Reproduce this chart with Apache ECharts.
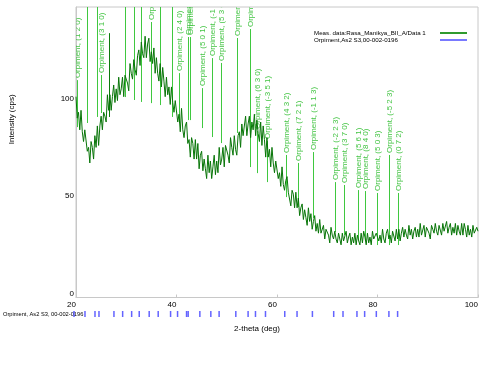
<!DOCTYPE html>
<html>
<head>
<meta charset="utf-8">
<title>XRD Rasa Manikya</title>
<script src="https://cdn.jsdelivr.net/npm/echarts@6.0.0/dist/echarts.min.js"></script>
<style>
html,body{margin:0;padding:0;background:#fff;}
#main{width:500px;height:375px;}
</style>
</head>
<body>
<div id="main"></div>
<script>
/*
 * XRD scan with Orpiment reference lines
 */
var dataName = 'Meas. data:Rasa_Manikya_BII_A/Data 1';
var refName = 'Orpiment,As2 S3,00-002-0196';
var refLabel = 'Orpiment, As2 S3, 00-002-0196';

var xMin = 20, xMax = 100, xStep = 20;
var yMin = 0, yMax = 149, yStep = 50;

var scanStart = 20;
var scanStep = 0.25;
var intensity = [
 103, 92, 95, 86,   96, 85, 80, 86,   86, 75, 77, 69,   80, 77, 71, 83,
 77, 88, 78, 88,    93, 86, 95, 93,   90, 104, 96, 104, 96, 103, 109, 100,
 107, 101, 113, 104, 107, 113, 103, 114, 114, 110, 106, 120, 115, 112, 122, 117,
 114, 124, 127, 119, 131, 125, 123, 134, 123, 130, 133, 121, 126, 120, 128, 115,
 123, 115, 111, 120, 108, 118, 111, 103, 113, 104, 108, 99, 108, 100, 95, 101,
 101, 90, 94, 85,   97, 86, 82, 88,   90, 79, 81, 72,   82, 79, 71, 81,
 71, 79, 66, 73,    75, 65, 71, 66,   61, 73, 64, 70,   61, 67, 73, 63,
 70, 64, 77, 68,    71, 77, 67, 78,   78, 73, 69, 82,   77, 73, 83, 76,
 73, 83, 85, 77,    89, 83, 82, 93,   83, 89, 93, 82,   90, 86, 94, 83,
 91, 84, 80, 90,    78, 88, 81, 72,   82, 72, 76, 67,   77, 69, 64, 70,
 70, 61, 64, 57,    67, 58, 55, 60,   62, 54, 55, 47,   55, 53, 46, 54,
 46, 51, 42, 46,    48, 40, 45, 41,   37, 46, 39, 43,   35, 39, 42, 34,
 38, 33, 40, 33,    34, 37, 30, 35,   35, 32, 28, 36,   32, 30, 34, 30,
 28, 33, 32, 27,    33, 29, 28, 34,   28, 31, 33, 27,   31, 28, 33, 27,
 32, 29, 27, 33,    28, 34, 31, 27,   33, 28, 31, 27,   34, 30, 29, 33,
 34, 29, 32, 28,    35, 30, 28, 33,   35, 30, 32, 28,   34, 33, 29, 35,
 30, 35, 29, 33,    36, 31, 35, 32,   30, 37, 32, 35,   30, 34, 36, 31,
 35, 31, 38, 32,    33, 37, 31, 36,   36, 33, 30, 37,   35, 33, 38, 34,
 32, 37, 37, 32,    38, 34, 33, 39,   33, 36, 38, 32,   36, 33, 38, 32,
 37, 34, 32, 38,    32, 38, 35, 31,   37, 32, 35, 31,   37, 33, 32, 36,
 34
];

// reference reflections (2-theta), bottom strip
var refPos = [20.10, 22.27, 24.25, 25.04, 28.00, 29.72, 31.50, 33.00, 34.97, 36.75,
  39.20, 40.58, 42.36, 42.68, 44.99, 47.16, 48.80, 52.10, 54.53, 55.99, 57.97,
  61.78, 64.21, 67.25, 71.46, 73.30, 76.06, 77.58, 79.89, 82.38, 84.10];

// label sticks in the plot: [2-theta, top, bottom, dark]
var stickData = [
  [20.15, 111.5, 87.4, 0], [22.27, 152, 89.5, 0], [24.25, 152, 92.6, 0],
  [25.04, 114.1, 94.6, 0], [26.56, 135.6, 92.6, 1], [29.72, 152, 102.8, 0],
  [31.50, 152, 101.3, 0], [33.00, 152, 100.3, 0], [34.97, 141.3, 99.7, 0],
  [36.75, 152, 98.7, 0], [39.20, 152, 92.6, 0], [40.58, 115.1, 89.5, 0],
  [42.36, 133.6, 91.0, 0], [42.68, 133.6, 91.0, 0], [44.99, 107.4, 86.9, 0],
  [47.16, 122.8, 82.3, 0], [48.80, 120.3, 79.2, 0], [52.10, 133.1, 84.4, 0],
  [54.53, 137.7, 66.9, 0], [55.99, 85.4, 63.8, 0], [57.97, 80.3, 59.2, 0],
  [61.78, 73.1, 51.5, 0], [64.21, 69.0, 46.4, 0], [67.25, 74.6, 40.8, 0],
  [71.46, 59.2, 33.6, 0], [73.30, 57.7, 32.0, 0], [76.06, 55.1, 29.5, 0],
  [77.58, 54.6, 29.5, 0], [79.89, 53.6, 26.9, 0], [82.38, 73.1, 26.9, 0],
  [84.10, 53.6, 26.9, 0]
];
var stickLabels = [
  'Orpiment, (1 2 0)', '', '', 'Orpiment, (3 1 0)', '', '', '', '',
  'Orpiment, (1 3 1)', '', '', 'Orpiment, (2 4 0)', 'Orpiment, (1 5 0)',
  'Orpiment, (3 3 1)', 'Orpiment, (5 0 1)', 'Orpiment, (-1 5 1)', 'Orpiment, (5 3 0)',
  'Orpiment, (2 6 0)', 'Orpiment, (1 5 2)', 'Orpiment, (6 3 0)', 'Orpiment, (-3 5 1)',
  'Orpiment, (4 3 2)', 'Orpiment, (7 2 1)', 'Orpiment, (-1 1 3)', 'Orpiment, (-2 2 3)',
  'Orpiment, (3 7 0)', 'Orpiment, (5 6 1)', 'Orpiment, (8 4 0)', 'Orpiment, (5 0 3)',
  'Orpiment, (-5 2 3)', 'Orpiment, (0 7 2)'
];

var scan = [];
for (var i = 0; i < intensity.length; i++) {
  scan.push([scanStart + i * scanStep, intensity[i]]);
}
var strip = [];
for (var j = 0; j < refPos.length; j++) {
  strip.push([refPos[j], 0]);
}

function renderStick(params, api) {
  var top = api.coord([api.value(0), api.value(1)]);
  var bot = api.coord([api.value(0), api.value(2)]);
  var x = Math.round(top[0]) + 0.5;
  var dark = api.value(3) === 1;
  var children = [{
    type: 'line',
    shape: {x1: x, y1: top[1], x2: x, y2: bot[1]},
    style: {stroke: dark ? '#0d7d0d' : '#3fc83f', lineWidth: 1}
  }];
  var label = stickLabels[params.dataIndex];
  if (label) {
    children.push({
      type: 'text',
      x: x, y: top[1] - 2,
      rotation: Math.PI / 2,
      style: {
        text: label, fill: '#44c444',
        font: '8px "Liberation Sans", Arial, sans-serif',
        align: 'left', verticalAlign: 'middle'
      }
    });
  }
  return {type: 'group', children: children};
}

var myChart = echarts.init(document.getElementById('main'));
myChart.setOption({
  animation: false,
  backgroundColor: '#fff',
  textStyle: {fontFamily: '"Liberation Sans", Arial, sans-serif'},
  legend: {
    orient: 'vertical', left: 309, top: 25, align: 'right',
    icon: 'rect', itemWidth: 27, itemHeight: 2, itemGap: 1,
    selectedMode: false,
    formatter: '{t|{name}}',
    textStyle: {
      fontSize: 6.2, color: '#000',
      rich: {t: {width: 121, align: 'left', fontSize: 6.2, lineHeight: 9, color: '#000'}}
    },
    data: [
      {name: dataName, itemStyle: {color: '#2f9a2f'}},
      {name: refName, itemStyle: {color: '#5858ff'}}
    ]
  },
  grid: [
    {left: 73.5, right: 22, top: 7, bottom: 77.5, show: true,
     borderColor: '#c8c8c8', borderWidth: 1, backgroundColor: 'transparent'},
    {left: 73.5, right: 22, top: 311, height: 6}
  ],
  xAxis: [{
    type: 'value', gridIndex: 0, min: xMin, max: xMax, interval: xStep,
    name: '2-theta (deg)', nameLocation: 'middle', nameGap: 27,
    nameTextStyle: {fontSize: 8, color: '#000', padding: [0, 40, 0, 0]},
    axisLine: {show: true, lineStyle: {color: '#c8c8c8'}},
    axisTick: {show: true, inside: true, length: 3, lineStyle: {color: '#c8c8c8'}},
    axisLabel: {fontSize: 8, color: '#000', align: 'right', margin: 3},
    splitLine: {show: false}
  }, {
    type: 'value', gridIndex: 1, min: xMin, max: xMax, show: false
  }],
  yAxis: [{
    type: 'value', gridIndex: 0, min: yMin, max: yMax, interval: yStep,
    name: 'Intensity (cps)', nameLocation: 'middle', nameGap: 60,
    nameTextStyle: {fontSize: 8, color: '#000', padding: [0, 0, 0, 66]},
    axisLine: {show: true, lineStyle: {color: '#c8c8c8'}},
    axisTick: {show: false},
    axisLabel: {
      fontSize: 8, color: '#000', verticalAlign: 'bottom', margin: 2,
      formatter: function (v) { return v % yStep === 0 ? String(v) : ''; }
    },
    splitLine: {show: false}
  }, {
    type: 'category', gridIndex: 1, data: [refLabel],
    axisLine: {show: false}, axisTick: {show: false},
    axisLabel: {fontSize: 5.7, color: '#000', align: 'left', margin: 70.5}
  }],
  series: [
    {
      type: 'custom', xAxisIndex: 0, yAxisIndex: 0, clip: true, silent: true, z: 2,
      renderItem: renderStick, data: stickData
    },
    {
      name: dataName, type: 'line', xAxisIndex: 0, yAxisIndex: 0,
      data: scan, symbol: 'none', z: 3,
      lineStyle: {color: '#077507', width: 1},
      itemStyle: {color: '#077507'}
    },
    {
      name: refName, type: 'scatter', xAxisIndex: 1, yAxisIndex: 1,
      symbol: 'rect', symbolSize: [1.5, 6], data: strip,
      itemStyle: {color: '#3c3cff'}
    }
  ]
});
</script>
</body>
</html>
